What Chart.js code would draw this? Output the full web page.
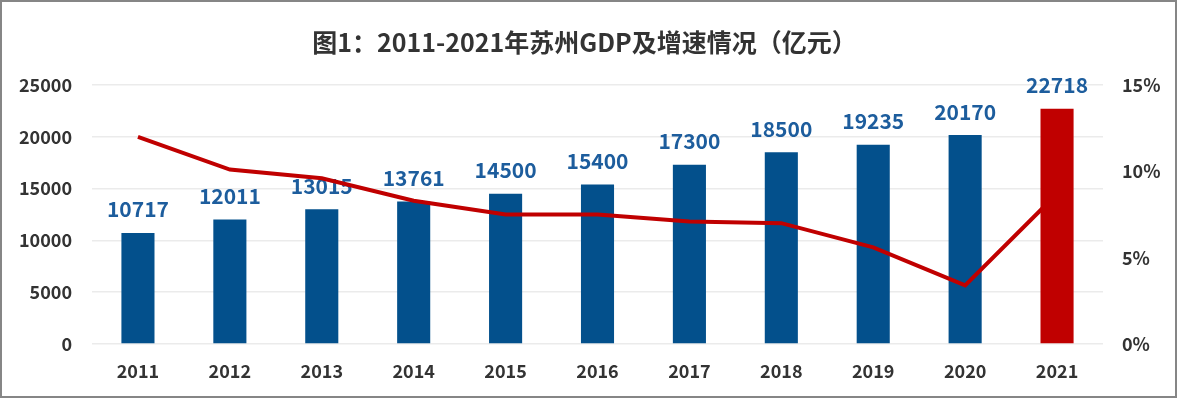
<!DOCTYPE html>
<html>
<head>
<meta charset="utf-8">
<script src="https://cdn.jsdelivr.net/npm/chart.js@4/dist/chart.umd.min.js"></script>
<style>
    html, body { margin: 0; padding: 0; background: #fff; }
    #wrap { width: 1177px; height: 398px; box-sizing: border-box; border: 2px solid #868686; background: #fff; }
</style>
</head>
<body>
<div id="wrap"><canvas id="gdpChart" width="1173" height="394"></canvas></div>
<script>
const chartTitle = "图1：2011-2021年苏州GDP及增速情况（亿元）";
const years = ["2011", "2012", "2013", "2014", "2015", "2016", "2017", "2018", "2019", "2020", "2021"];
const gdpValues = [10717, 12011, 13015, 13761, 14500, 15400, 17300, 18500, 19235, 20170, null];
const gdpLatest = [null, null, null, null, null, null, null, null, null, null, 22718];
const growthRates = [12.0, 10.1, 9.6, 8.3, 7.5, 7.5, 7.1, 7.0, 5.6, 3.4, 8.7];
const leftTicks = [0, 5000, 10000, 15000, 20000, 25000];
const rightTicks = [0, 5, 10, 15];

const fontName = "'Noto Sans CJK SC', 'Noto Sans', sans-serif";
const blue = "#03508C";
const red = "#C00000";
const labelBlue = "#1D5D9D";

// draws the value above each bar, right after that dataset is painted
const barLabels = {
    id: "barLabels",
    afterDatasetDraw(chart, args) {
        const ds = chart.data.datasets[args.index];
        if (ds.type !== "bar") return;
        const ctx = chart.ctx;
        ctx.save();
        ctx.font = "bold 21px " + fontName;
        ctx.fillStyle = labelBlue;
        ctx.textAlign = "center";
        ctx.textBaseline = "bottom";
        args.meta.data.forEach(function(bar, i) {
            if (ds.data[i] == null) return;
            ctx.fillText(String(ds.data[i]), bar.x, bar.y - 13);
        });
        ctx.restore();
    }
};

// title across the top
const plotTitle = {
    id: "plotTitle",
    afterDraw(chart) {
        const ctx = chart.ctx;
        ctx.save();
        ctx.font = "bold 25px " + fontName;
        ctx.fillStyle = "#333333";
        ctx.textAlign = "center";
        ctx.textBaseline = "middle";
        ctx.fillText(chartTitle, chart.width / 2 - 4, 40);
        ctx.restore();
    }
};

const tickFont = { family: fontName, size: 18, weight: "bold" };

window.onload = function() {
    const context = document.getElementById("gdpChart").getContext("2d");
    new Chart(context, {
        data: {
            labels: years,
            datasets: [{
                type: "bar",
                label: "GDP",
                data: gdpValues,
                backgroundColor: blue,
                yAxisID: "y",
                grouped: false,
                barPercentage: 0.72,
                categoryPercentage: 0.5,
                order: 3
            }, {
                type: "line",
                label: "增速",
                data: growthRates,
                borderColor: red,
                borderWidth: 4,
                pointRadius: 0,
                tension: 0,
                yAxisID: "y1",
                order: 2
            }, {
                type: "bar",
                label: "GDP 2021",
                data: gdpLatest,
                backgroundColor: red,
                yAxisID: "y",
                grouped: false,
                barPercentage: 0.72,
                categoryPercentage: 0.5,
                order: 1
            }]
        },
        options: {
            responsive: false,
            animation: false,
            layout: { padding: { left: 14, right: 0, top: 83, bottom: 10 } },
            plugins: {
                legend: { display: false },
                tooltip: { enabled: false }
            },
            scales: {
                x: {
                    afterFit: function(axis) { axis.height = 42; },
                    grid: { display: false, drawTicks: false },
                    border: { display: false },
                    ticks: {
                        padding: 16,
                        color: "#333333",
                        font: tickFont
                    }
                },
                y: {
                    position: "left",
                    min: 0,
                    max: 25000,
                    afterFit: function(axis) { axis.width = 76; },
                    afterBuildTicks: function(axis) {
                        axis.ticks = leftTicks.map(v => ({ value: v }));
                    },
                    grid: { color: "#EBEBEB", lineWidth: 1.5, drawTicks: false },
                    border: { display: false },
                    ticks: {
                        padding: 20,
                        color: "#333333",
                        font: tickFont,
                        callback: v => String(v)
                    }
                },
                y1: {
                    position: "right",
                    min: 0,
                    max: 15,
                    afterFit: function(axis) { axis.width = 72; },
                    afterBuildTicks: function(axis) {
                        axis.ticks = rightTicks.map(v => ({ value: v }));
                    },
                    grid: { display: false, drawTicks: false },
                    border: { display: false },
                    ticks: {
                        padding: 19,
                        color: "#333333",
                        font: tickFont,
                        callback: v => v + "%"
                    }
                }
            }
        },
        plugins: [barLabels, plotTitle]
    });
};
</script>
</body>
</html>
